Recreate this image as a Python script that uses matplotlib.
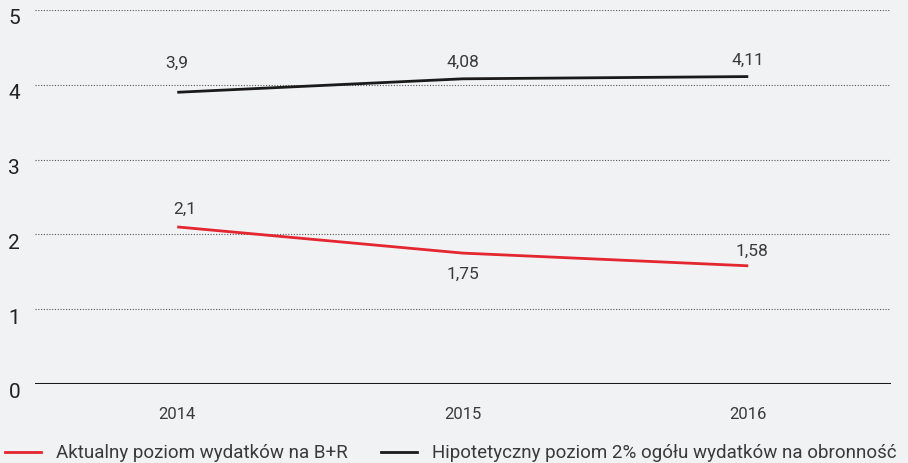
import matplotlib
matplotlib.use("Agg")
import matplotlib.pyplot as plt
import matplotlib.transforms as mtransforms
from matplotlib.lines import Line2D

plt.rcParams['font.family'] = ['Roboto', 'DejaVu Sans']

# dane
years = ['2014', '2015', '2016']
aktualny = [2.1, 1.75, 1.58]
hipotetyczny = [3.9, 4.08, 4.11]
aktualny_lbl = ['2,1', '1,75', '1,58']
hipotetyczny_lbl = ['3,9', '4,08', '4,11']
y_ticks = [0, 1, 2, 3, 4, 5]
legend_labels = ['Aktualny poziom wydatków na B+R',
                 'Hipotetyczny poziom 2% ogółu wydatków na obronność']

bg = '#f1f2f4'
red = '#e3262f'
dark = '#1a1a1a'
txt = '#3a3a3a'

fig = plt.figure(figsize=(9.08, 4.64), dpi=100)
fig.patch.set_facecolor(bg)
ax = fig.add_axes([34.5 / 908, 79 / 464, (891 - 34.5) / 908, (385 - 11) / 464])
ax.set_facecolor(bg)

x = list(range(len(years)))
ax.plot(x, aktualny, color=red, lw=2, solid_capstyle='butt', zorder=3)
ax.plot(x, hipotetyczny, color=dark, lw=2, solid_capstyle='butt', zorder=3)

# etykiety wartości
offs_red = [(8, 19), (0, -20), (4, 15)]
offs_blk = [(0, 30), (0, 17), (0, 17)]
for i, (v, s) in enumerate(zip(aktualny, aktualny_lbl)):
    ax.annotate(s, (i, v), xytext=offs_red[i], textcoords='offset pixels',
                ha='center', va='center', fontsize=12.5, color=txt)
for i, (v, s) in enumerate(zip(hipotetyczny, hipotetyczny_lbl)):
    ax.annotate(s, (i, v), xytext=offs_blk[i], textcoords='offset pixels',
                ha='center', va='center', fontsize=12.5, color=txt)

ax.set_xlim(-0.5, 2.5)
ax.set_ylim(0, 5)
ax.set_yticks(y_ticks)
ax.set_yticklabels([str(t) for t in y_ticks], fontsize=15, color='#222222', ha='center')
ax.tick_params(axis='y', length=0, pad=14.5)
shift = mtransforms.ScaledTranslation(0, -6 / 100, fig.dpi_scale_trans)
for lbl in ax.get_yticklabels():
    lbl.set_transform(lbl.get_transform() + shift)
ax.set_xticks(x)
ax.set_xticklabels(years, fontsize=12, color=txt)
ax.tick_params(axis='x', length=0, pad=16)
ax.grid(axis='y', color='#555555', linestyle=(0, (1, 1.5)), lw=0.8)
ax.axhline(0, color=dark, lw=2.2, zorder=4)
for sp in ax.spines.values():
    sp.set_visible(False)

# legenda (ręcznie)
ly = 1 - 453 / 464
fig.add_artist(Line2D([5 / 908, 41 / 908], [ly, ly], color=red, lw=2))
fig.text(56 / 908, ly, legend_labels[0], fontsize=13.5, color=txt, va='center', ha='left')
fig.add_artist(Line2D([381 / 908, 417 / 908], [ly, ly], color=dark, lw=2))
fig.text(432 / 908, ly, legend_labels[1], fontsize=13.5, color=txt, va='center', ha='left')

fig.savefig('out.png', dpi=100, facecolor=bg)
